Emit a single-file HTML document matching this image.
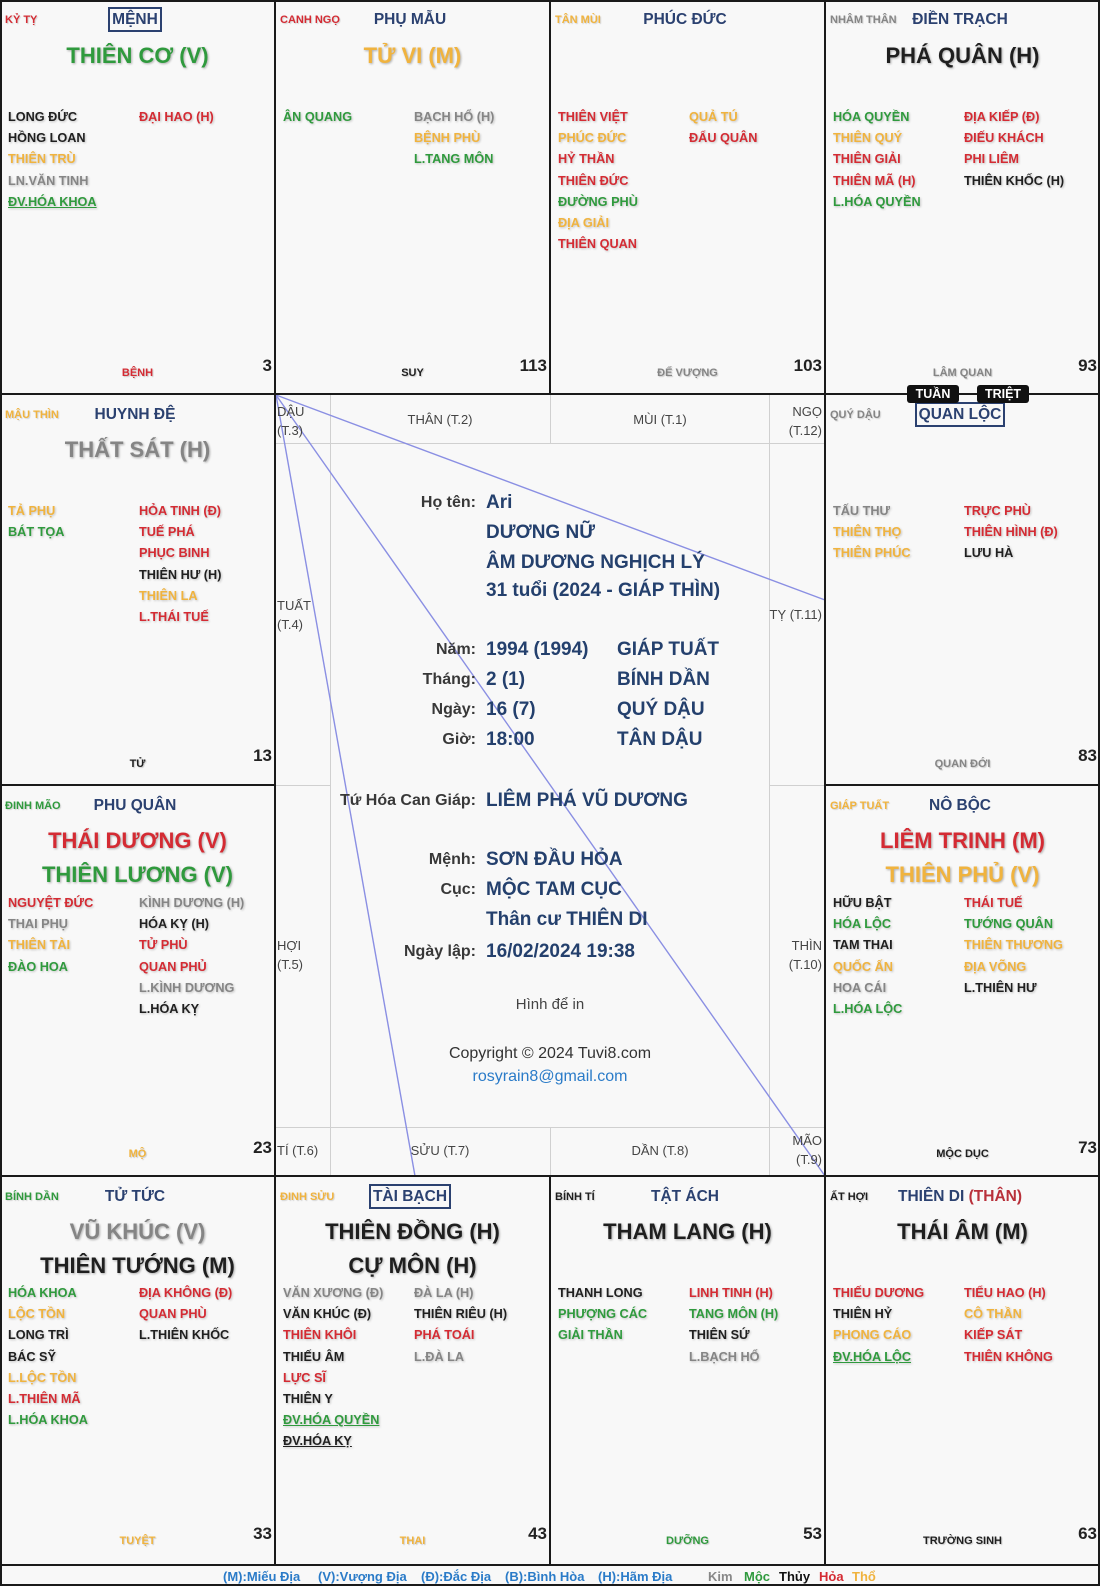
<!DOCTYPE html>
<html>
<head>
<meta charset="utf-8">
<style>
html,body{margin:0;padding:0;}
body{width:1100px;height:1586px;background:#f8f8f8;position:relative;overflow:hidden;font-family:"Liberation Sans","DejaVu Sans",sans-serif;}
svg.bg{position:absolute;left:0;top:0;}
.c{position:absolute;width:275px;}
.cc{position:absolute;left:5px;top:13px;font-weight:bold;font-size:11px;line-height:16px;white-space:nowrap;text-shadow:1px 1px 1px rgba(0,0,0,.15);}
.pn{position:absolute;left:0;width:270px;top:10px;text-align:center;font-weight:bold;font-size:15.5px;line-height:21px;color:#2b4170;white-space:nowrap;}
.box{display:inline-block;border:2px solid #2b4170;padding:0 2px;margin-top:-2px;}
.m{position:absolute;left:0;width:275px;text-align:center;font-weight:bold;font-size:22px;line-height:28px;white-space:nowrap;text-shadow:1px 1px 2px rgba(0,0,0,.3);}
.m1{top:42px;}
.m2{top:76px;}
.col{position:absolute;top:107px;font-weight:bold;font-size:12.7px;line-height:21.2px;white-space:nowrap;text-shadow:1px 1px 2px rgba(0,0,0,.22);}
.col div{height:21.2px;}
.l{left:8px;}
.r{left:139px;}
.st{position:absolute;left:0;width:275px;text-align:center;font-weight:bold;font-size:11px;line-height:16px;white-space:nowrap;text-shadow:1px 1px 1px rgba(0,0,0,.18);}
.n{position:absolute;right:3px;font-weight:bold;font-size:17px;line-height:20px;color:#222;}
.r1 .st{top:365px;} .r1 .n{top:356px;}
.r2 .st{top:362px;} .r2 .n{top:352px;}
.r3 .st{top:361px;} .r3 .n{top:353px;}
.r4 .st{top:357px;} .r4 .n{top:348px;}
.u{text-decoration:underline;}
.R{color:#d42b33;}
.G{color:#2f9a3d;}
.Y{color:#f0b33e;}
.K{color:#1f1f1f;}
.A{color:#858585;}
.lb{position:absolute;left:276px;width:200px;text-align:right;font-weight:bold;font-size:16px;line-height:22px;color:#383838;white-space:nowrap;}
.v{position:absolute;left:486px;font-weight:bold;font-size:19px;line-height:24px;color:#24406d;white-space:nowrap;}
.v3{position:absolute;left:617px;font-weight:bold;font-size:19px;line-height:24px;color:#24406d;white-space:nowrap;}
.ctr{position:absolute;left:275px;width:550px;text-align:center;white-space:nowrap;}
.sl{position:absolute;font-size:13px;line-height:19px;color:#444;white-space:nowrap;}
.tt{position:absolute;top:385px;height:18px;background:#111;color:#fff;border-radius:3px;font-weight:bold;font-size:12.5px;line-height:18px;text-align:center;}
.lg{position:absolute;top:1568px;font-weight:bold;font-size:13px;line-height:18px;white-space:nowrap;}
.lgb{color:#2a7bc8;}
</style>
</head>
<body>
<svg class="bg" width="1100" height="1586" viewBox="0 0 1100 1586">
  <g stroke="#d0d0d0" stroke-width="1" fill="none">
    <path d="M275 443.5 H825"/>
    <path d="M275 1127.5 H825"/>
    <path d="M330.5 394 V1176"/>
    <path d="M769.5 394 V1176"/>
    <path d="M550.5 394 V443"/>
    <path d="M550.5 1127 V1176"/>
    <path d="M275 785.5 H330"/>
    <path d="M770 785.5 H825"/>
  </g>
  <g stroke="#8a8fe3" stroke-width="1.4" fill="none">
    <path d="M276 395 L825 600"/>
    <path d="M276 395 L825 1176"/>
    <path d="M276 395 L415 1176"/>
  </g>
  <g stroke="#1a1a1a" stroke-width="2" fill="none">
    <rect x="1" y="1" width="1098" height="1584"/>
    <path d="M0 394 H1100"/>
    <path d="M0 785 H275"/>
    <path d="M825 785 H1100"/>
    <path d="M0 1176 H1100"/>
    <path d="M0 1565 H1100"/>
    <path d="M275 0 V1565"/>
    <path d="M550 0 V394"/>
    <path d="M550 1176 V1565"/>
    <path d="M825 0 V1565"/>
  </g>
</svg>

<!-- ROW 1 -->
<div class="c r1" style="left:0;top:0;height:394px">
  <div class="cc R" style="top:12px">KỶ TỴ</div>
  <div class="pn" style="top:9px"><span class="box">MỆNH</span></div>
  <div class="m m1 G">THIÊN CƠ (V)</div>
  <div class="col l">
    <div class="K">LONG ĐỨC</div>
    <div class="K">HỒNG LOAN</div>
    <div class="Y">THIÊN TRÙ</div>
    <div class="A">LN.VĂN TINH</div>
    <div class="G u">ĐV.HÓA KHOA</div>
  </div>
  <div class="col r">
    <div class="R">ĐẠI HAO (H)</div>
  </div>
  <div class="st R">BỆNH</div>
  <div class="n">3</div>
</div>

<div class="c r1" style="left:275px;top:0;height:394px">
  <div class="cc R" style="top:12px">CANH NGỌ</div>
  <div class="pn" style="top:9px">PHỤ MẪU</div>
  <div class="m m1 Y">TỬ VI (M)</div>
  <div class="col l">
    <div class="G">ÂN QUANG</div>
  </div>
  <div class="col r">
    <div class="A">BẠCH HỔ (H)</div>
    <div class="Y">BỆNH PHÙ</div>
    <div class="G">L.TANG MÔN</div>
  </div>
  <div class="st K">SUY</div>
  <div class="n">113</div>
</div>

<div class="c r1" style="left:550px;top:0;height:394px">
  <div class="cc Y" style="top:12px">TÂN MÙI</div>
  <div class="pn" style="top:9px">PHÚC ĐỨC</div>
  <div class="col l">
    <div class="R">THIÊN VIỆT</div>
    <div class="Y">PHÚC ĐỨC</div>
    <div class="R">HỶ THẦN</div>
    <div class="R">THIÊN ĐỨC</div>
    <div class="G">ĐƯỜNG PHÙ</div>
    <div class="Y">ĐỊA GIẢI</div>
    <div class="R">THIÊN QUAN</div>
  </div>
  <div class="col r">
    <div class="Y">QUẢ TÚ</div>
    <div class="R">ĐẨU QUÂN</div>
  </div>
  <div class="st A">ĐẾ VƯỢNG</div>
  <div class="n">103</div>
</div>

<div class="c r1" style="left:825px;top:0;height:394px">
  <div class="cc A" style="top:12px">NHÂM THÂN</div>
  <div class="pn" style="top:9px">ĐIỀN TRẠCH</div>
  <div class="m m1 K">PHÁ QUÂN (H)</div>
  <div class="col l">
    <div class="G">HÓA QUYỀN</div>
    <div class="Y">THIÊN QUÝ</div>
    <div class="R">THIÊN GIẢI</div>
    <div class="R">THIÊN MÃ (H)</div>
    <div class="G">L.HÓA QUYỀN</div>
  </div>
  <div class="col r">
    <div class="R">ĐỊA KIẾP (Đ)</div>
    <div class="R">ĐIẾU KHÁCH</div>
    <div class="R">PHI LIÊM</div>
    <div class="K">THIÊN KHỐC (H)</div>
  </div>
  <div class="st A">LÂM QUAN</div>
  <div class="n">93</div>
</div>

<!-- ROW 2 -->
<div class="c r2" style="left:0;top:394px;height:391px">
  <div class="cc Y">MẬU THÌN</div>
  <div class="pn">HUYNH ĐỆ</div>
  <div class="m m1 A">THẤT SÁT (H)</div>
  <div class="col l">
    <div class="Y">TẢ PHỤ</div>
    <div class="G">BÁT TỌA</div>
  </div>
  <div class="col r">
    <div class="R">HỎA TINH (Đ)</div>
    <div class="R">TUẾ PHÁ</div>
    <div class="R">PHỤC BINH</div>
    <div class="K">THIÊN HƯ (H)</div>
    <div class="Y">THIÊN LA</div>
    <div class="R">L.THÁI TUẾ</div>
  </div>
  <div class="st K">TỬ</div>
  <div class="n">13</div>
</div>

<div class="c r2" style="left:825px;top:394px;height:391px">
  <div class="cc A">QUÝ DẬU</div>
  <div class="pn"><span class="box">QUAN LỘC</span></div>
  <div class="col l">
    <div class="A">TẤU THƯ</div>
    <div class="Y">THIÊN THỌ</div>
    <div class="Y">THIÊN PHÚC</div>
  </div>
  <div class="col r">
    <div class="R">TRỰC PHÙ</div>
    <div class="R">THIÊN HÌNH (Đ)</div>
    <div class="K">LƯU HÀ</div>
  </div>
  <div class="st A">QUAN ĐỚI</div>
  <div class="n">83</div>
</div>

<!-- ROW 3 -->
<div class="c r3" style="left:0;top:785px;height:391px">
  <div class="cc G">ĐINH MÃO</div>
  <div class="pn">PHU QUÂN</div>
  <div class="m m1 R">THÁI DƯƠNG (V)</div>
  <div class="m m2 G">THIÊN LƯƠNG (V)</div>
  <div class="col l" style="top:108px">
    <div class="R">NGUYỆT ĐỨC</div>
    <div class="A">THAI PHỤ</div>
    <div class="Y">THIÊN TÀI</div>
    <div class="G">ĐÀO HOA</div>
  </div>
  <div class="col r" style="top:108px">
    <div class="A">KÌNH DƯƠNG (H)</div>
    <div class="K">HÓA KỴ (H)</div>
    <div class="R">TỬ PHÙ</div>
    <div class="R">QUAN PHỦ</div>
    <div class="A">L.KÌNH DƯƠNG</div>
    <div class="K">L.HÓA KỴ</div>
  </div>
  <div class="st Y">MỘ</div>
  <div class="n">23</div>
</div>

<div class="c r3" style="left:825px;top:785px;height:391px">
  <div class="cc Y">GIÁP TUẤT</div>
  <div class="pn">NÔ BỘC</div>
  <div class="m m1 R">LIÊM TRINH (M)</div>
  <div class="m m2 Y">THIÊN PHỦ (V)</div>
  <div class="col l" style="top:108px">
    <div class="K">HỮU BẬT</div>
    <div class="G">HÓA LỘC</div>
    <div class="K">TAM THAI</div>
    <div class="Y">QUỐC ẤN</div>
    <div class="A">HOA CÁI</div>
    <div class="G">L.HÓA LỘC</div>
  </div>
  <div class="col r" style="top:108px">
    <div class="R">THÁI TUẾ</div>
    <div class="G">TƯỚNG QUÂN</div>
    <div class="Y">THIÊN THƯƠNG</div>
    <div class="Y">ĐỊA VÕNG</div>
    <div class="K">L.THIÊN HƯ</div>
  </div>
  <div class="st K">MỘC DỤC</div>
  <div class="n">73</div>
</div>

<!-- ROW 4 -->
<div class="c r4" style="left:0;top:1176px;height:389px">
  <div class="cc G">BÍNH DẦN</div>
  <div class="pn">TỬ TỨC</div>
  <div class="m m1 A">VŨ KHÚC (V)</div>
  <div class="m m2 K">THIÊN TƯỚNG (M)</div>
  <div class="col l">
    <div class="G">HÓA KHOA</div>
    <div class="Y">LỘC TỒN</div>
    <div class="K">LONG TRÌ</div>
    <div class="K">BÁC SỸ</div>
    <div class="Y">L.LỘC TỒN</div>
    <div class="R">L.THIÊN MÃ</div>
    <div class="G">L.HÓA KHOA</div>
  </div>
  <div class="col r">
    <div class="R">ĐỊA KHÔNG (Đ)</div>
    <div class="R">QUAN PHÙ</div>
    <div class="K">L.THIÊN KHỐC</div>
  </div>
  <div class="st Y">TUYỆT</div>
  <div class="n">33</div>
</div>

<div class="c r4" style="left:275px;top:1176px;height:389px">
  <div class="cc Y">ĐINH SỬU</div>
  <div class="pn"><span class="box">TÀI BẠCH</span></div>
  <div class="m m1 K">THIÊN ĐỒNG (H)</div>
  <div class="m m2 K">CỰ MÔN (H)</div>
  <div class="col l">
    <div class="A">VĂN XƯƠNG (Đ)</div>
    <div class="K">VĂN KHÚC (Đ)</div>
    <div class="R">THIÊN KHÔI</div>
    <div class="K">THIẾU ÂM</div>
    <div class="R">LỰC SĨ</div>
    <div class="K">THIÊN Y</div>
    <div class="G u">ĐV.HÓA QUYỀN</div>
    <div class="K u">ĐV.HÓA KỴ</div>
  </div>
  <div class="col r">
    <div class="A">ĐÀ LA (H)</div>
    <div class="K">THIÊN RIÊU (H)</div>
    <div class="R">PHÁ TOÁI</div>
    <div class="A">L.ĐÀ LA</div>
  </div>
  <div class="st Y">THAI</div>
  <div class="n">43</div>
</div>

<div class="c r4" style="left:550px;top:1176px;height:389px">
  <div class="cc K">BÍNH TÍ</div>
  <div class="pn">TẬT ÁCH</div>
  <div class="m m1 K">THAM LANG (H)</div>
  <div class="col l">
    <div class="K">THANH LONG</div>
    <div class="G">PHƯỢNG CÁC</div>
    <div class="G">GIẢI THẦN</div>
  </div>
  <div class="col r">
    <div class="R">LINH TINH (H)</div>
    <div class="G">TANG MÔN (H)</div>
    <div class="K">THIÊN SỨ</div>
    <div class="A">L.BẠCH HỔ</div>
  </div>
  <div class="st G">DƯỠNG</div>
  <div class="n">53</div>
</div>

<div class="c r4" style="left:825px;top:1176px;height:389px">
  <div class="cc K">ẤT HỢI</div>
  <div class="pn">THIÊN DI <span style="color:#b8303a">(THÂN)</span></div>
  <div class="m m1 K">THÁI ÂM (M)</div>
  <div class="col l">
    <div class="R">THIẾU DƯƠNG</div>
    <div class="K">THIÊN HỶ</div>
    <div class="Y">PHONG CÁO</div>
    <div class="G u">ĐV.HÓA LỘC</div>
  </div>
  <div class="col r">
    <div class="R">TIỂU HAO (H)</div>
    <div class="Y">CÔ THẦN</div>
    <div class="R">KIẾP SÁT</div>
    <div class="R">THIÊN KHÔNG</div>
  </div>
  <div class="st K">TRƯỜNG SINH</div>
  <div class="n">63</div>
</div>

<!-- Tuan / Triet -->
<div class="tt" style="left:907px;width:52px">TUẦN</div>
<div class="tt" style="left:977px;width:52px">TRIỆT</div>

<!-- Center strip labels -->
<div class="sl" style="left:277px;top:402px">DẬU<br>(T.3)</div>
<div class="sl" style="left:330px;width:220px;text-align:center;top:410px">THÂN (T.2)</div>
<div class="sl" style="left:550px;width:220px;text-align:center;top:410px">MÙI (T.1)</div>
<div class="sl" style="left:770px;width:52px;text-align:right;top:402px">NGỌ<br>(T.12)</div>
<div class="sl" style="left:277px;top:596px">TUẤT<br>(T.4)</div>
<div class="sl" style="left:760px;width:62px;text-align:right;top:605px">TỴ (T.11)</div>
<div class="sl" style="left:277px;top:936px">HỢI<br>(T.5)</div>
<div class="sl" style="left:770px;width:52px;text-align:right;top:936px">THÌN<br>(T.10)</div>
<div class="sl" style="left:277px;top:1141px">TÍ (T.6)</div>
<div class="sl" style="left:330px;width:220px;text-align:center;top:1141px">SỬU (T.7)</div>
<div class="sl" style="left:550px;width:220px;text-align:center;top:1141px">DẦN (T.8)</div>
<div class="sl" style="left:770px;width:52px;text-align:right;top:1131px">MÃO<br>(T.9)</div>

<!-- Center info -->
<div class="lb" style="top:492px">Họ tên:</div>
<div class="v" style="top:491px">Ari</div>
<div class="v" style="top:521px">DƯƠNG NỮ</div>
<div class="v" style="top:551px">ÂM DƯƠNG NGHỊCH LÝ</div>
<div class="v" style="top:579px">31 tuổi (2024 - GIÁP THÌN)</div>

<div class="lb" style="top:639px">Năm:</div>
<div class="v" style="top:638px">1994 (1994)</div>
<div class="v3" style="top:638px">GIÁP TUẤT</div>
<div class="lb" style="top:669px">Tháng:</div>
<div class="v" style="top:668px">2 (1)</div>
<div class="v3" style="top:668px">BÍNH DẦN</div>
<div class="lb" style="top:699px">Ngày:</div>
<div class="v" style="top:698px">16 (7)</div>
<div class="v3" style="top:698px">QUÝ DẬU</div>
<div class="lb" style="top:729px">Giờ:</div>
<div class="v" style="top:728px">18:00</div>
<div class="v3" style="top:728px">TÂN DẬU</div>

<div class="lb" style="top:790px">Tứ Hóa Can Giáp:</div>
<div class="v" style="top:789px">LIÊM PHÁ VŨ DƯƠNG</div>

<div class="lb" style="top:849px">Mệnh:</div>
<div class="v" style="top:848px">SƠN ĐẦU HỎA</div>
<div class="lb" style="top:879px">Cục:</div>
<div class="v" style="top:878px">MỘC TAM CỤC</div>
<div class="v" style="top:908px">Thân cư THIÊN DI</div>
<div class="lb" style="top:941px">Ngày lập:</div>
<div class="v" style="top:940px">16/02/2024 19:38</div>

<div class="ctr" style="top:995px;font-size:15px;line-height:20px;color:#444">Hình để in</div>
<div class="ctr" style="top:1043px;font-size:16px;line-height:22px;color:#333">Copyright © 2024 Tuvi8.com</div>
<div class="ctr" style="top:1066px;font-size:16px;line-height:22px;color:#2a7bc8">rosyrain8@gmail.com</div>

<!-- Legend -->
<div class="lg lgb" style="left:223px">(M):Miếu Địa</div>
<div class="lg lgb" style="left:318px">(V):Vượng Địa</div>
<div class="lg lgb" style="left:421px">(Đ):Đắc Địa</div>
<div class="lg lgb" style="left:505px">(B):Bình Hòa</div>
<div class="lg lgb" style="left:598px">(H):Hãm Địa</div>
<div class="lg" style="left:708px;color:#888">Kim</div>
<div class="lg" style="left:744px;color:#2f9a3d">Mộc</div>
<div class="lg" style="left:779px;color:#111">Thủy</div>
<div class="lg" style="left:819px;color:#d42b33">Hỏa</div>
<div class="lg" style="left:852px;color:#f0b33e">Thổ</div>
</body>
</html>
